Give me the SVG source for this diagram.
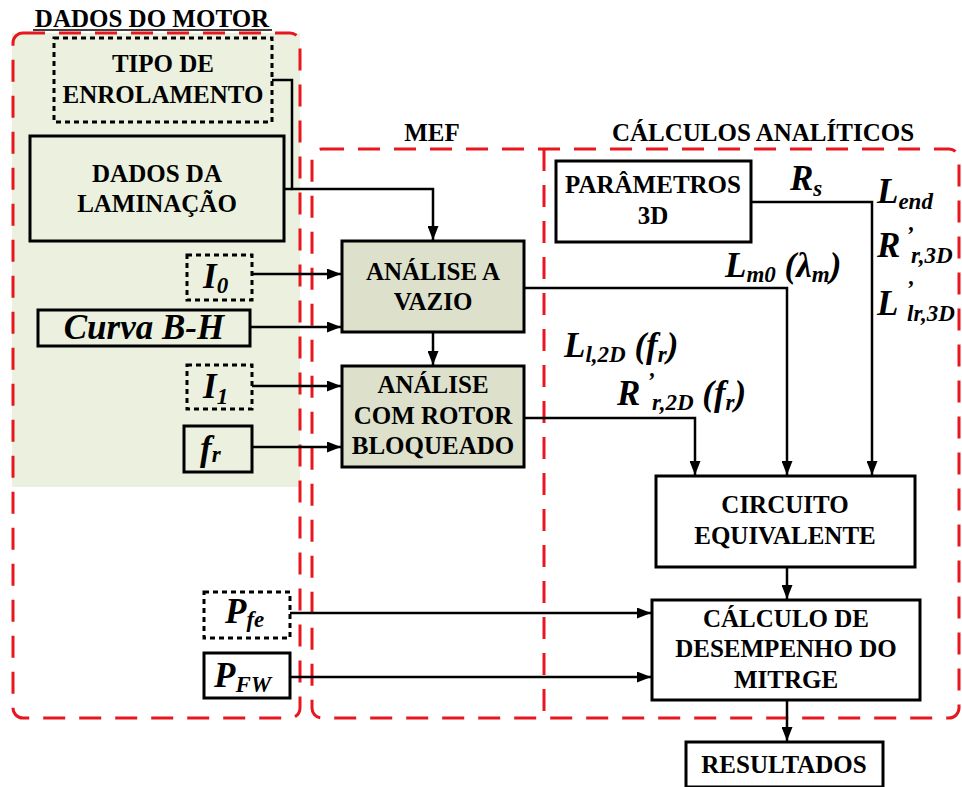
<svg xmlns="http://www.w3.org/2000/svg" width="962" height="787" viewBox="0 0 962 787">
<defs>
<marker id="ah" markerUnits="userSpaceOnUse" markerWidth="15" markerHeight="11" refX="14" refY="5.5" orient="auto">
<path d="M0,0 L14,5.5 L0,11 z" fill="#000"/>
</marker>
<style>
.t{font-family:'Liberation Serif','Times New Roman',serif;font-weight:bold;font-size:25px;text-anchor:middle;fill:#000}
.m{font-family:'Liberation Serif','Times New Roman',serif;font-weight:bold;font-style:italic;font-size:35px;fill:#000}
.s{font-size:23px}
.box{fill:#fff;stroke:#000;stroke-width:3}
.g{fill:#ebf1de}
.fe{fill:#dde0cb;stroke:#000;stroke-width:3}
.dot{fill:none;stroke:#000;stroke-width:3;stroke-dasharray:5 4}
.red{fill:none;stroke:#e8161e;stroke-width:3;stroke-dasharray:22 14}
.c{fill:none;stroke:#000;stroke-width:2.5}
</style>
</defs>
<rect width="962" height="787" fill="#fff"/>
<g id="regions">
<rect x="12" y="33" width="288" height="454" fill="#ebf1de"/>
<rect class="red" x="13" y="33" width="287" height="685" rx="10"/>
<rect class="red" x="312" y="149" width="647" height="569" rx="10"/>
<line class="red" x1="544" y1="149" x2="544" y2="712"/>
<text class="t" x="152" y="27">DADOS DO MOTOR</text>
<line x1="33" y1="30" x2="272" y2="30" stroke="#000" stroke-width="1.5"/>
<text class="t" x="432" y="141">MEF</text>
<text class="t" x="763" y="141">CÁLCULOS ANALÍTICOS</text>
</g>
<g id="connectors">
<path class="c" d="M272,80 H292 V189 H433 V240" marker-end="url(#ah)"/>
<path class="c" d="M284,189 H292"/>
<path class="c" d="M252,274 H341" marker-end="url(#ah)"/>
<path class="c" d="M250,327 H341" marker-end="url(#ah)"/>
<path class="c" d="M252,386 H341" marker-end="url(#ah)"/>
<path class="c" d="M252,447 H341" marker-end="url(#ah)"/>
<path class="c" d="M433,332 V365" marker-end="url(#ah)"/>
<path class="c" d="M524,288 H787 V475" marker-end="url(#ah)"/>
<path class="c" d="M524,418 H695 V475" marker-end="url(#ah)"/>
<path class="c" d="M751,202 H872 V475" marker-end="url(#ah)"/>
<path class="c" d="M787,567 V599" marker-end="url(#ah)"/>
<path class="c" d="M290,613 H651" marker-end="url(#ah)"/>
<path class="c" d="M290,677 H651" marker-end="url(#ah)"/>
<path class="c" d="M787,700 V741" marker-end="url(#ah)"/>
</g>
<g id="labels">
<text class="m" x="790" y="190">R<tspan class="s" dy="6">s</tspan></text>
<text class="m" x="877" y="203">L<tspan class="s" dy="6">end</tspan></text>
<text class="m" x="877" y="257">R<tspan class="s" x="906" y="242">’</tspan><tspan class="s" x="911" y="263">r,3D</tspan></text>
<text class="m" x="877" y="315">L<tspan class="s" x="906" y="296">’</tspan><tspan class="s" x="907" y="321">lr,3D</tspan></text>
<text class="m" x="725" y="277">L<tspan class="s" dy="5">m0</tspan><tspan dy="-5"> (λ</tspan><tspan class="s" dy="5">m</tspan><tspan dy="-5">)</tspan></text>
<text class="m" x="564" y="357">L<tspan class="s" dy="5">l,2D</tspan><tspan dy="-5"> (f</tspan><tspan class="s" dy="5">r</tspan><tspan dy="-5">)</tspan></text>
<text class="m" x="617" y="405">R<tspan class="s" x="647" y="388">’</tspan><tspan class="s" x="652" y="410">r,2D</tspan><tspan y="405"> (f</tspan><tspan class="s" y="410">r</tspan><tspan y="405">)</tspan></text>
</g>
<g id="tipo">
<rect class="dot" x="54" y="38" width="218" height="84"/>
<text class="t" x="163" y="72">TIPO DE</text>
<text class="t" x="163" y="103">ENROLAMENTO</text>
</g>
<g id="laminacao">
<rect class="box g" x="30" y="136" width="254" height="105" style="fill:#ebf1de"/>
<text class="t" x="157" y="182">DADOS DA</text>
<text class="t" x="157" y="212">LAMINAÇÃO</text>
</g>
<g id="i0">
<rect class="dot" x="187" y="255" width="65" height="45"/>
<text class="m" x="203" y="288">I<tspan class="s" dy="5">0</tspan></text>
</g>
<g id="curva">
<rect class="box" x="38" y="310" width="212" height="36" style="fill:#ebf1de"/>
<text class="m" x="144" y="339" text-anchor="middle">Curva B-H</text>
</g>
<g id="i1">
<rect class="dot" x="187" y="365" width="65" height="44"/>
<text class="m" x="203" y="398">I<tspan class="s" dy="6">1</tspan></text>
</g>
<g id="fr">
<rect class="box" x="184" y="426" width="68" height="46" style="fill:#ebf1de"/>
<text class="m" x="200" y="460">f<tspan class="s" dy="2">r</tspan></text>
</g>
<g id="vazio">
<rect class="fe" x="342" y="241" width="182" height="91"/>
<text class="t" x="433" y="280">ANÁLISE A</text>
<text class="t" x="433" y="310">VAZIO</text>
</g>
<g id="bloqueado">
<rect class="fe" x="342" y="366" width="182" height="101"/>
<text class="t" x="433" y="393">ANÁLISE</text>
<text class="t" x="433" y="424">COM ROTOR</text>
<text class="t" x="433" y="454">BLOQUEADO</text>
</g>
<g id="parametros">
<rect class="box" x="556" y="161" width="195" height="81"/>
<text class="t" x="653" y="193">PARÂMETROS</text>
<text class="t" x="653" y="224">3D</text>
</g>
<g id="circuito">
<rect class="box" x="656" y="476" width="259" height="91"/>
<text class="t" x="785" y="513">CIRCUITO</text>
<text class="t" x="785" y="544">EQUIVALENTE</text>
</g>
<g id="calculo">
<rect class="box" x="652" y="600" width="268" height="100"/>
<text class="t" x="786" y="627">CÁLCULO DE</text>
<text class="t" x="786" y="657">DESEMPENHO DO</text>
<text class="t" x="786" y="688">MITRGE</text>
</g>
<g id="pfe">
<rect class="dot" x="204" y="592" width="86" height="46"/>
<text class="m" x="225" y="623">P<tspan class="s" dy="4">fe</tspan></text>
</g>
<g id="pfw">
<rect class="box" x="204" y="653" width="86" height="45"/>
<text class="m" x="214" y="687">P<tspan class="s" dy="5">FW</tspan></text>
</g>
<g id="resultados">
<rect class="box" x="686" y="742" width="197" height="45"/>
<text class="t" x="784" y="773">RESULTADOS</text>
</g>
</svg>
